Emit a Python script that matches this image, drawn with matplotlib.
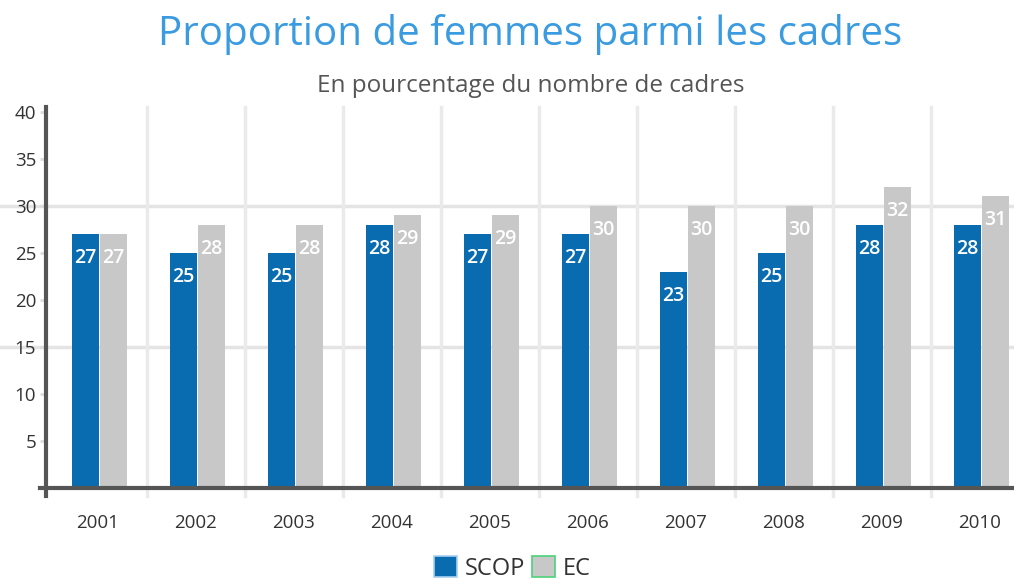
import numpy as np
import matplotlib
matplotlib.use("Agg")
import matplotlib.pyplot as plt
from matplotlib.lines import Line2D
from matplotlib.patches import Patch

plt.rcParams['font.family'] = ['Open Sans', 'DejaVu Sans']

# data
years = ['2001', '2002', '2003', '2004', '2005', '2006', '2007', '2008', '2009', '2010']
scop = [27, 25, 25, 28, 27, 27, 23, 25, 28, 28]
ec = [27, 28, 28, 29, 29, 30, 30, 30, 32, 31]

blue = '#0a6cb0'
grey = '#c8c8c8'

fig = plt.figure(figsize=(10.14, 5.79), dpi=100)
ax = fig.add_axes([46 / 1014, 1 - 488 / 579, 1 - 46 / 1014, (488 - 107) / 579])

x = np.arange(len(years))
w = 0.275
b1 = ax.bar(x - w / 2 + 0.012, scop, w, color=blue, zorder=3)
b2 = ax.bar(x + w / 2 + 0.022, ec, w, color=grey, zorder=3)

# value labels inside bar tops
for rect, v in list(zip(b1, scop)) + list(zip(b2, ec)):
    ax.text(rect.get_x() + rect.get_width() / 2, v - 1.5, str(v),
            ha='center', va='top', color='white', fontsize=14,
            fontweight='semibold', zorder=4)

ax.set_xlim(-0.53, 9.35)
ax.set_ylim(0, 40.5)

# grid: horizontal at 15 and 30, vertical between categories
for yv in [15, 30]:
    ax.add_line(Line2D([-0.06, 1], [yv / 40.5, yv / 40.5], transform=ax.transAxes,
                       color='#e4e4e4', lw=2.5, zorder=1, clip_on=False))
for xv in x[:-1] + 0.5:
    ax.axvline(xv, ymin=-0.02, ymax=1, color='#eaeaea', lw=2.5, zorder=1, clip_on=False)

ax.set_yticks([5, 10, 15, 20, 25, 30, 35, 40])
ax.set_xticks(x)
ax.set_xticklabels(years)
ax.tick_params(axis='y', length=4, width=2, color='#dddddd', labelsize=13.5,
               labelcolor='#333333', pad=3)
ax.tick_params(axis='x', length=0, labelsize=13.5, labelcolor='#333333', pad=19)

for s in ['top', 'right', 'left', 'bottom']:
    ax.spines[s].set_visible(False)
# axis lines, slightly overshooting like the original
ax.add_line(Line2D([0, 0], [-0.02, 1], transform=ax.transAxes, color='#555555',
                   lw=3, zorder=5, clip_on=False))
ax.add_line(Line2D([-0.006, 1], [0, 0], transform=ax.transAxes, color='#555555',
                   lw=3, zorder=5, clip_on=False))

fig.text(0.523, 0.94, 'Proportion de femmes parmi les cadres', ha='center', va='center',
         fontsize=29, color='#3a9be0')
fig.text(0.523, 0.852, 'En pourcentage du nombre de cadres', ha='center', va='center',
         fontsize=17.5, color='#555555')

handles = [Patch(facecolor=blue, edgecolor='#a8d0f0', lw=1.2),
           Patch(facecolor=grey, edgecolor='#4cd27a', lw=1.2)]
fig.legend(handles, ['SCOP', 'EC'], loc='center', bbox_to_anchor=(0.505, 0.018),
           ncol=2, frameon=False, fontsize=17, handlelength=1.0, handleheight=1.0,
           handletextpad=0.3, columnspacing=0.3, labelcolor='#333333')

fig.savefig('out.png', dpi=100)
